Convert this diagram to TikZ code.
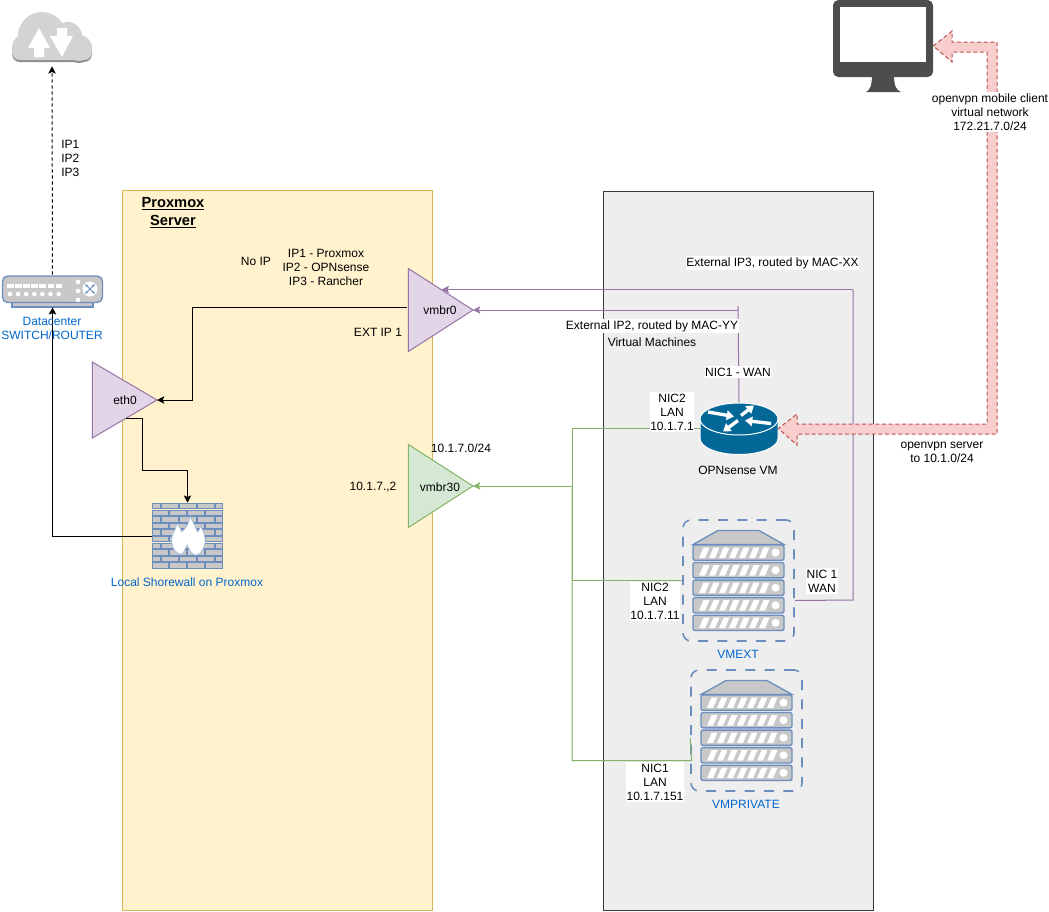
\documentclass[tikz,border=0pt]{standalone}
\usepackage{fontspec}
\setmainfont{Liberation Sans}
\usetikzlibrary{arrows.meta, shapes.geometric}
\definecolor{boxyellow}{HTML}{FFF2CC}
\definecolor{edgeyellow}{HTML}{D6B656}
\definecolor{vmgrey}{HTML}{EEEEEE}
\definecolor{vmedge}{HTML}{36393D}
\definecolor{wanpurple}{HTML}{9673A6}
\definecolor{wanfill}{HTML}{E1D5E7}
\definecolor{langreen}{HTML}{82B366}
\definecolor{lanfill}{HTML}{D5E8D4}
\definecolor{vpnfill}{HTML}{F8CECC}
\definecolor{vpnedge}{HTML}{B85450}
\definecolor{iconblue}{HTML}{6C8EBF}
\definecolor{icongrey}{HTML}{C8C8C8}
\definecolor{textblue}{HTML}{0066CC}
\definecolor{routerblue}{HTML}{036897}
\definecolor{screendark}{HTML}{4D4D4D}
\tikzset{
    every node/.style = {font=\fontsize{9}{10.5}\selectfont, align=center, inner sep=0pt},
    tip/.style = {-{Stealth[length=5.5pt, width=5.5pt, inset=1.2pt]}},
    blackline/.style = {draw=black, line width=.75pt, tip},
    wanline/.style = {draw=wanpurple, line width=.75pt},
    lanline/.style = {draw=langreen, line width=.75pt},
    vpnflow/.style = {draw=vpnedge, fill=vpnfill, line width=.75pt, dash pattern=on 3pt off 2pt},
    whitelabel/.style = {fill=white, inner xsep=.5pt, inner ysep=1pt},
    iconlabel/.style = {text=textblue},
    vbridge/.style = {isosceles triangle, isosceles triangle stretches, anchor=apex, outer sep=0pt,
        minimum width=62.25pt, minimum height=48.5pt, line width=.75pt},
    wanbridge/.style = {vbridge, draw=wanpurple, fill=wanfill},
    lanbridge/.style = {vbridge, draw=langreen, fill=lanfill},
    vmbox/.style = {draw=iconblue, line width=1.2pt, rounded corners=6pt, dash pattern=on 7.5pt off 7pt,
        minimum width=83.25pt, minimum height=90.75pt},
    part/.style = {fill=icongrey, draw=iconblue, line width=1pt},
    brick/.style = {fill=icongrey, draw=iconblue, line width=.7pt},
    serverpic/.pic = {
        \path[part] (-45.5,-36) -- (-20.5,-50) -- (20.5,-50) -- (45.5,-36) -- cycle;
        \foreach \i [evaluate=\i as \yy using -35.5+17.55*\i] in {0,...,4} {
            \path[part, rounded corners=1.5pt] (-45.5,\yy) rectangle (45.5,\yy+15.3);
            \foreach \j in {0,...,6}
                \fill[white] (-39.5+10*\j,\yy+13) -- (-33.5+10*\j,\yy+13) -- (-29+10*\j,\yy+2.5) -- (-35+10*\j,\yy+2.5) -- cycle;
            \fill[white] (37,\yy+7.6) circle (4);
        }
    },
    routerpic/.pic = {
        \path[fill=routerblue, draw=white, line width=.75pt] (-39,-9) -- (-39,10) arc[start angle=180, end angle=0, x radius=39, y radius=16] -- (39,-9) -- cycle;
        \path[fill=routerblue, draw=white, line width=.75pt] (0,-9.5) ellipse (39 and 16);
        \foreach \ax/\ay/\bx/\by in {-31/-16.5/-5/-12, 2/-13/15/-23, 32/-5/6/-8, -1/-8/-16/3}
            \draw[white, line width=2.5pt, -{Triangle[length=5.5pt, width=7pt]}] (\ax,\ay) -- (\bx,\by);
    },
    monitorpic/.pic = {
        \fill[screendark] (-11,28) -- (11,28) .. controls (11,40) and (13,44) .. (18,46) -- (-17,46) .. controls (-13,44) and (-11,40) .. (-11,28) -- cycle;
        \fill[screendark, rounded corners=4pt] (-50,-46) rectangle (50,31);
        \fill[white] (-43,-39) rectangle (43,16);
    },
    cloudpic/.pic = {
        \foreach \shade/\dy in {icongrey!70!black/2, icongrey!80!white/0} {
            \fill[\shade] (-10,-3+\dy) circle (24);
            \fill[\shade] (16,-3+\dy) circle (14);
            \fill[\shade] (-27,8+\dy) circle (13);
            \fill[\shade] (27,9+\dy) circle (13);
            \fill[\shade, rounded corners=6pt] (-40,4+\dy) rectangle (40,21+\dy);
        }
        \fill[white] (-13,-11) -- (-2,9) -- (-8,9) -- (-8,18) -- (-18,18) -- (-18,9) -- (-24,9) -- cycle;
        \fill[white] (5,-11) -- (15,-11) -- (15,-3) -- (21,-3) -- (10,18) -- (-2,-3) -- (5,-3) -- cycle;
    },
    switchpic/.pic = {
        \path[part] (-40.5,10) rectangle (40.5,16);
        \path[part, rounded corners=4pt] (-50,-15) rectangle (50,11.5);
        \foreach \i in {0,...,6} {
            \fill[white] (-45.5+8.1*\i,-7) rectangle ++(6.5,3.5);
            \fill[white] (-42.5+8.1*\i,3) circle (2.3);
        }
        \foreach \y in {-9,0,9}
            \fill[white] (25.5,\y) circle (2.3);
        \fill[white] (37.5,-2) circle (7.5);
        \draw[iconblue, line width=.75pt, {Stealth[length=2.5pt]}-{Stealth[length=2.5pt]}] (32.5,-7) -- (42.5,3);
        \draw[iconblue, line width=.75pt, {Stealth[length=2.5pt]}-{Stealth[length=2.5pt]}] (32.5,3) -- (42.5,-7);
    },
    firewallpic/.pic = {
        \foreach \r in {0,2,4,6,8} {
            \foreach \a/\w in {0/8, 9/17, 27/17, 45/17, 63/7}
                \path[brick] (-35.5+\a,-32.5+6.6*\r) rectangle ++(\w,5.4);
            \foreach \a/\w in {0/16, 17/17, 35/17, 53/17}
                \path[brick] (-35.5+\a,-25.9+6.6*\r) rectangle ++(\w,5.4);
        }
        \path[fill=white, draw=iconblue!60!white, line width=.5pt] (-0.5,9) .. controls (-3.5,14) and (-3.5,19) .. (-7.5,18)
            .. controls (-15.5,16) and (-17.5,4) .. (-14.5,-2) .. controls (-12.5,-6) and (-11.5,-9) .. (-10.5,-12)
            .. controls (-7.5,-9) and (-6.5,-6) .. (-6,-4) .. controls (-2,-7) and (1.5,-12) .. (2.5,-20)
            .. controls (6,-13) and (9,-7) .. (10,-4) .. controls (11.5,-5) and (12.5,-7) .. (13,-10)
            .. controls (16,-5) and (18.5,2) .. (17.5,7) .. controls (16.5,14) and (11.5,20) .. (7.5,19)
            .. controls (3.5,18) and (2.5,14) .. (-0.5,9) -- cycle;
    }
}

\begin{document}
\begin{tikzpicture}[x=.75pt, y=-.75pt]
    \useasboundingbox (0,0) rectangle (1049,911);

    % background panels
    \node[draw=edgeyellow, fill=boxyellow, line width=.75pt, minimum width=232.5pt, minimum height=540pt] (proxmox) at (277,550) {};
    \node[draw=vmedge, fill=vmgrey, line width=.75pt, minimum width=202.5pt, minimum height=539.25pt] (vmarea) at (738,550.5) {};

    % icons
    \node[minimum width=60pt, minimum height=40.5pt] (cloud) at (52,39) {};
    \pic at (cloud) {cloudpic};
    \node[minimum width=75pt, minimum height=24pt] (switch) at (52.5,291) {};
    \pic at (switch) {switchpic};
    \node[minimum width=53.25pt, minimum height=49.5pt] (firewall) at (187.5,536) {};
    \pic at (firewall) {firewallpic};
    \node[minimum width=58.5pt, minimum height=38.25pt] (router) at (739,428.5) {};
    \pic at (router) {routerpic};
    \node[minimum width=75pt, minimum height=69pt] (monitor) at (883,46) {};
    \pic at (monitor) {monitorpic};
    \node[vmbox] (vmext) at (738.5,580.5) {};
    \pic at (vmext) {serverpic};
    \node[vmbox] (vmprivate) at (746.5,730.5) {};
    \pic at (vmprivate) {serverpic};

    % bridges
    \node[wanbridge, minimum width=57pt] (eth0) at (157,400) {};
    \node[wanbridge] (vmbr0) at (473,310) {};
    \node[lanbridge] (vmbr30) at (473,486) {};

    \coordinate (vmbr0lan) at (407,307);
    \coordinate (vmbr0wan) at (441.7,289.5);
    \coordinate (eth0out) at (126,418);
    \coordinate (ethbend) at (192,400);
    \coordinate (fwdrop) at (142.5,470);
    \coordinate (wanbend) at (853,600);
    \coordinate (wanturn) at (853,289.5);
    \coordinate (nicstub) at (738,306);
    \coordinate (nicjoin) at (738,310);
    \coordinate (lanbus) at (572,486);
    \coordinate (lanfoot) at (691.5,760.5);

    % connectors
    \draw[blackline, dashed, dash pattern=on 2.5pt off 2pt] (switch.north) -- (cloud.south);
    \draw[blackline] (vmbr0lan) -| (ethbend) -- (eth0.apex);
    \draw[blackline] (eth0out) -| (fwdrop) -| (firewall.north);
    \draw[blackline] (firewall.west) -| (switch.south);
    \draw[wanline] ([yshift=-15pt]vmext.east) -- (wanbend) -- (wanturn);
    \draw[wanline, tip] (wanturn) -- (vmbr0wan);
    \draw[wanline] (router.north) -- (nicstub);
    \draw[wanline, tip] (nicjoin) -- (vmbr0.apex);
    \draw[lanline, tip] (router.west) -| (lanbus) -- (vmbr30.apex);
    \draw[lanline] (vmext.west) -| (lanbus);
    \draw[lanline] ([yshift=-5.6pt]vmprivate.west) -- (lanfoot) -| (lanbus);

    % openvpn tunnel
    \draw[vpnflow] (monitor.east) -- (952,31) -- (952,42) -- (997,42) -- (997,434) -- (797,434) -- (797,445)
        -- (router.east) -- (797,414) -- (797,424) -- (987,424) -- (987,52) -- (952,52) -- (952,62) -- cycle;

    % labels
    \node[anchor=west, align=left] (wanips) at (61,158.5) {IP1\\IP2\\IP3};
    \node[iconlabel] (switchlabel) at (52,328) {Datacenter\\SWITCH/ROUTER};
    \node (eth0label) at (125,400.5) {eth0};
    \node[iconlabel] (firewalllabel) at (187,582.5) {Local Shorewall on Proxmox};
    \node[font=\fontsize{11}{13.5}\selectfont\bfseries] (proxmoxlabel) at (173,213) {\underline{Proxmox}\\\underline{Server}};
    \node (noip) at (256,261) {No IP};
    \node (iplist) at (326,267) {IP1 - Proxmox\\IP2 - OPNsense\\IP3 - Rancher};
    \node (extip) at (378,332) {EXT IP 1};
    \node (vmbr0label) at (440,310) {vmbr0};
    \node (lannet) at (461,448) {10.1.7.0/24};
    \node (lanip) at (373,487) {10.1.7.,2};
    \node (vmbr30label) at (440,487) {vmbr30};
    \node[whitelabel] (extip3) at (772.5,263) {External IP3, routed by MAC-XX};
    \node[whitelabel] (extip2) at (652,326) {External IP2, routed by MAC-YY};
    \node (vmlabel) at (652,342) {Virtual Machines};
    \node[whitelabel] (nicwan) at (738,372) {NIC1 - WAN};
    \node[whitelabel] (niclan) at (672,412) {NIC2\\LAN\\10.1.7.1};
    \node (routerlabel) at (738,470) {OPNsense VM};
    \node[whitelabel] (extlan) at (655,601.5) {NIC2\\LAN\\10.1.7.11};
    \node[iconlabel] (vmextlabel) at (738,654) {VMEXT};
    \node[whitelabel] (extwan) at (822,581) {NIC 1\\WAN};
    \node[whitelabel] (privlan) at (655,782) {NIC1\\LAN\\10.1.7.151};
    \node[iconlabel] (vmprivatelabel) at (746,804) {VMPRIVATE};
    \node[whitelabel] (clientlabel) at (990,112) {openvpn mobile client\\virtual network\\172.21.7.0/24};
    \node[whitelabel] (serverlabel) at (942,452) {openvpn server\\to 10.1.0/24};
\end{tikzpicture}
\end{document}
